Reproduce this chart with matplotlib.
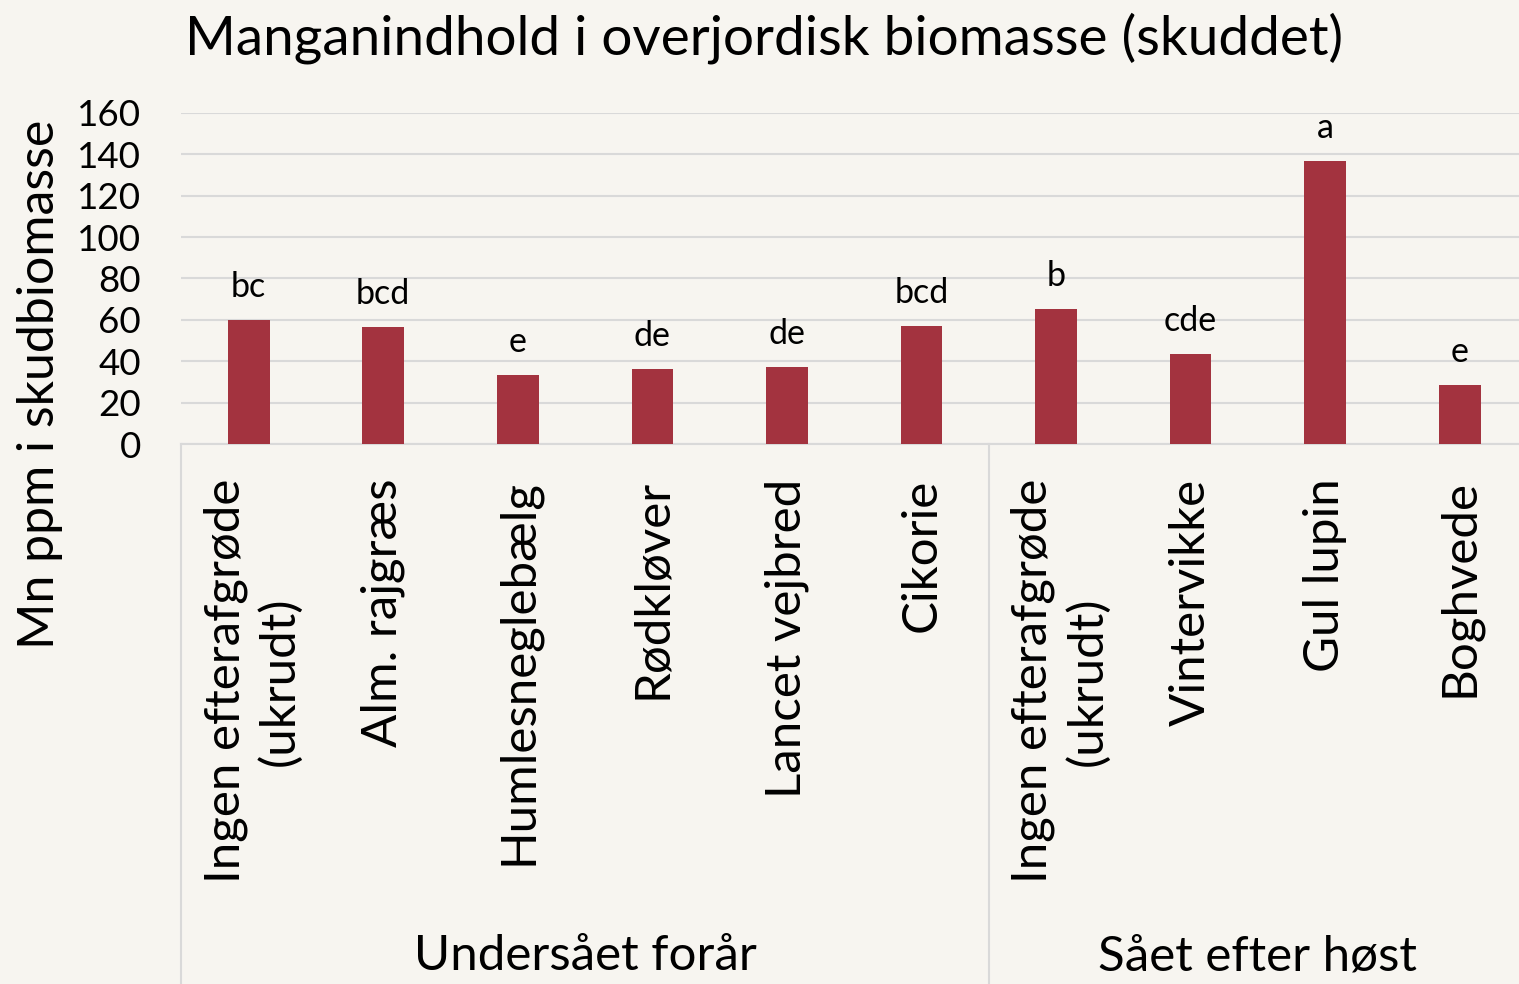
import matplotlib.pyplot as plt
from matplotlib.lines import Line2D

# data
categories = ["Ingen efterafgrøde\n(ukrudt)", "Alm. rajgræs", "Humlesneglebælg",
              "Rødkløver", "Lancet vejbred", "Cikorie",
              "Ingen efterafgrøde\n(ukrudt)", "Vintervikke", "Gul lupin", "Boghvede"]
values = [60, 56.7, 33.5, 36.1, 37.1, 57.2, 65.2, 43.5, 136.8, 28.7]
letters = ["bc", "bcd", "e", "de", "de", "bcd", "b", "cde", "a", "e"]
groups = ["Undersået forår", "Sået efter høst"]
group_sizes = [6, 4]
yticks = [0, 20, 40, 60, 80, 100, 120, 140, 160]

bg = "#F7F5F0"
bar_color = "#A3333F"
grid_color = "#D9D9D9"
plt.rcParams["font.family"] = ["Lato", "DejaVu Sans"]

W, H = 1519, 984
fig = plt.figure(figsize=(W / 100, H / 100), dpi=100, facecolor=bg)
# plot area in pixels: x 181.4 .. 1527, y 113 .. 444
ax = fig.add_axes([181.4 / W, 1 - 444 / H, 1345.6 / W, 331 / H])
ax.set_facecolor(bg)

x = list(range(len(categories)))
ax.bar(x, values, width=0.31, color=bar_color, zorder=3)
for xi, v, lab in zip(x, values, letters):
    ax.annotate(lab, xy=(xi, v), xytext=(0, 16.5), textcoords="offset points",
                ha="center", va="baseline", fontsize=24.5)

ax.set_xlim(-0.5, len(categories) - 0.5)
ax.set_ylim(0, 160)
ax.set_yticks(yticks)
ax.tick_params(axis="y", length=0, pad=29, labelsize=26.5)
ax.set_xticks([])
ax.grid(axis="y", color=grid_color, linewidth=1.5, zorder=0)
for s in ["top", "right", "left"]:
    ax.spines[s].set_visible(False)
ax.spines["bottom"].set_color(grid_color)
ax.spines["bottom"].set_linewidth(1.5)

# category labels (rotated), top anchored under the axis
for xi, c in zip(x, categories):
    dx = 3 if "\n" in c else 0
    ax.annotate(c, xy=(xi, 0), xytext=(dx, -25), textcoords="offset points",
                rotation=90, ha="center", va="top", multialignment="center",
                fontsize=35.5, linespacing=1.25, annotation_clip=False)

# group separators and group labels
bottom_axes = -(H - 444) / 331.0
edges = [-0.5]
for n in group_sizes:
    edges.append(edges[-1] + n)
for e in edges:
    ax.add_line(Line2D([e, e], [0, bottom_axes], transform=ax.get_xaxis_transform(),
                       color=grid_color, linewidth=1.5, clip_on=False))
group_y = -(970 - 444) / 331.0
for g, a, b in zip(groups, edges[:-1], edges[1:]):
    ax.text((a + b) / 2, group_y, g, transform=ax.get_xaxis_transform(),
            ha="center", va="baseline", fontsize=35.5)

fig.text(40 / W, 1 - 384 / H, "Mn ppm i skudbiomasse", rotation=90,
         ha="center", va="center", fontsize=36)
fig.text(764 / W, 1 - 55 / H, "Manganindhold i overjordisk biomasse (skuddet)",
         ha="center", va="baseline", fontsize=39.5)

fig.savefig("out.png", dpi=100, facecolor=bg)
